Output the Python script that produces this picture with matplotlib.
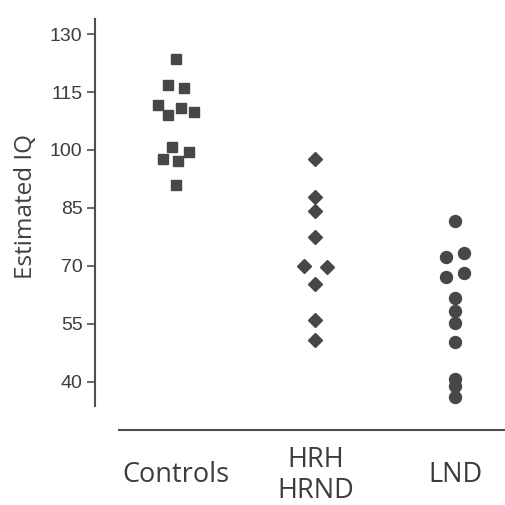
import matplotlib
matplotlib.use("Agg")
import matplotlib.pyplot as plt

categories = ["Controls", "HRH\nHRND", "LND"]

controls_iq = [123.5, 116.8, 116.0, 111.6, 109.1, 110.9, 109.7, 100.7, 99.4, 97.6, 97.2, 90.8]
controls_jit = [0.0, -0.06, 0.06, -0.127, -0.06, 0.034, 0.13, -0.03, 0.093, -0.09, 0.016, 0.0]

hrh_iq = [97.7, 87.9, 84.3, 77.4, 70.0, 69.7, 65.4, 56.0, 50.9]
hrh_jit = [0.0, 0.0, 0.0, 0.0, -0.08, 0.08, 0.0, 0.0, 0.0]

lnd_iq = [81.7, 72.4, 73.3, 67.1, 68.1, 61.6, 58.4, 55.2, 50.3, 40.8, 39.0, 36.1]
lnd_jit = [0.0, -0.065, 0.065, -0.065, 0.065, 0.0, 0.0, 0.0, 0.0, 0.0, 0.0, 0.0]

yticks = [40, 55, 70, 85, 100, 115, 130]

W = H = 505
fig = plt.figure(figsize=(5.05, 5.05), dpi=100)
ax = fig.add_axes([95 / W, (H - 430) / H, (505 - 95) / W, (430 - 19) / H])

mcol = "#474747"
ax.plot([0 + j for j in controls_jit], controls_iq, ls="none", marker="s", ms=7.3, color=mcol, mec=mcol)
ax.plot([1 + j for j in hrh_jit], hrh_iq, ls="none", marker="D", ms=7.2, color=mcol, mec=mcol)
ax.plot([2 + j for j in lnd_jit], lnd_iq, ls="none", marker="o", ms=8.6, color=mcol, mec=mcol)

ax.set_xlim(-0.58, 2.358)
ax.set_ylim(27.5, 133.9)

for s in ["top", "right"]:
    ax.spines[s].set_visible(False)
axcol = "#505050"
ax.spines["left"].set_color(axcol)
ax.spines["bottom"].set_color(axcol)
ax.spines["left"].set_linewidth(1.5)
ax.spines["bottom"].set_linewidth(1.5)
ax.spines["left"].set_bounds(33.6, 133.9)
ax.spines["bottom"].set_bounds(-0.409, 2.358)

ax.set_yticks(yticks)
ax.set_yticklabels([str(v) for v in yticks], fontfamily="Liberation Sans", fontsize=14, color="#3c3c3c")
ax.tick_params(axis="y", direction="out", length=6, width=1.2, color=axcol, pad=3)

ax.set_xticks([0, 1, 2])
ax.set_xticklabels(categories, fontfamily="Open Sans", fontsize=19.5, color="#3c3c3c", linespacing=1.15)
ax.tick_params(axis="x", length=0, pad=32.5)
for lab in ax.get_xticklabels():
    lab.set_verticalalignment("center")

ax.set_ylabel("Estimated IQ", fontfamily="Open Sans", fontsize=17.5, color="#404040")
ax.yaxis.set_label_coords(-0.14, 0.545)

fig.savefig("out.png", dpi=100)
